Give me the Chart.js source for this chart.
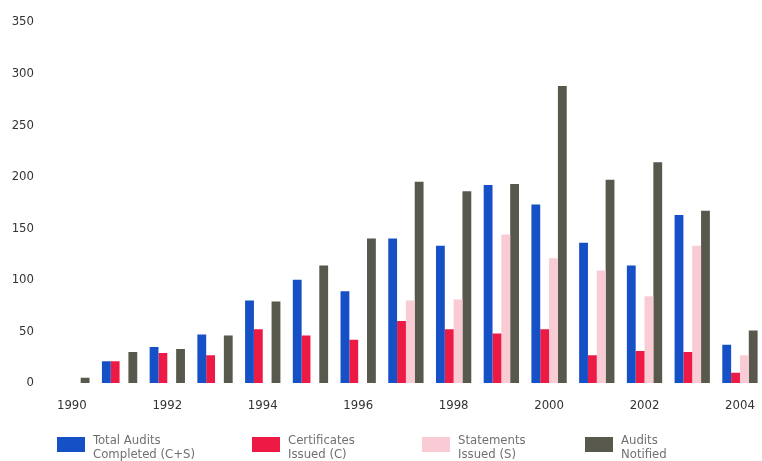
<!DOCTYPE html>
<html>
<head>
<meta charset="utf-8">
<script src="https://cdn.jsdelivr.net/npm/chart.js@4.4.1/dist/chart.umd.min.js"></script>
<style>
  html, body { margin: 0; padding: 0; background: #ffffff; overflow: hidden; }
  #wrap { position: relative; width: 770px; height: 461px; }
</style>
</head>
<body>
<div id="wrap"><canvas id="chart"></canvas></div>
<script>
// Audit activity by year
const years = ['1990','1991','1992','1993','1994','1995','1996','1997','1998','1999','2000','2001','2002','2003','2004'];
const totalCompleted = [0, 21, 35, 47, 80, 100, 89, 140, 133, 192, 173, 136, 114, 163, 37];
const certificatesIssued = [0, 21, 29, 27, 52, 46, 42, 60, 52, 48, 52, 27, 31, 30, 10];
const statementsIssued = [null, null, null, null, null, null, null, 80, 81, 144, 121, 109, 84, 133, 27];
const auditsNotified = [5, 30, 33, 46, 79, 114, 140, 195, 186, 193, 288, 197, 214, 167, 51];
const yTicks = [0, 50, 100, 150, 200, 250, 300, 350];

const seriesLabels = [
  ['Total Audits', 'Completed (C+S)'],
  ['Certificates', 'Issued (C)'],
  ['Statements', 'Issued (S)'],
  ['Audits', 'Notified']
];
const seriesColors = ['#1650c6', '#ec1a44', '#f9ccd5', '#58594c'];

const fontFamily = '"Liberation Sans Narrow", "DejaVu Sans Condensed", "Liberation Sans", Arial, sans-serif';
const tickFont = { family: fontFamily, size: 13 };

// Legend drawn below the axis, two-line labels
const bottomLegend = {
  id: 'bottomLegend',
  afterDraw(chart) {
    const ctx = chart.ctx;
    const boxX = [57, 252, 422, 585];
    ctx.save();
    ctx.font = '13px ' + fontFamily;
    ctx.textBaseline = 'middle';
    ctx.textAlign = 'left';
    chart.data.datasets.forEach((ds, i) => {
      const x = boxX[i];
      ctx.fillStyle = ds.backgroundColor;
      ctx.fillRect(x, 437, 28, 15);
      ctx.fillStyle = '#707070';
      const lines = seriesLabels[i];
      lines.forEach((t, k) => ctx.fillText(t, x + 36, 441 + k * 14));
    });
    ctx.restore();
  }
};

new Chart(document.getElementById('chart'), {
  type: 'bar',
  data: {
    labels: years,
    datasets: [
      { label: seriesLabels[0].join(' '), data: totalCompleted, backgroundColor: seriesColors[0] },
      { label: seriesLabels[1].join(' '), data: certificatesIssued, backgroundColor: seriesColors[1] },
      { label: seriesLabels[2].join(' '), data: statementsIssued, backgroundColor: seriesColors[2] },
      { label: seriesLabels[3].join(' '), data: auditsNotified, backgroundColor: seriesColors[3] }
    ]
  },
  options: {
    responsive: true,
    maintainAspectRatio: false,
    animation: false,
    layout: { padding: { top: 22, right: 5, bottom: 0, left: 0 } },
    datasets: { bar: { categoryPercentage: 0.74, barPercentage: 1.0, borderWidth: 0 } },
    plugins: { legend: { display: false }, tooltip: { enabled: false } },
    scales: {
      x: {
        grid: { display: false, drawTicks: false },
        border: { display: false },
        ticks: {
          autoSkip: false,
          maxRotation: 0,
          padding: 15,
          color: '#333333',
          font: tickFont,
          callback: (v, i) => (i % 2 === 0 ? years[i] : '')
        },
        afterFit: (s) => { s.height = 78; }
      },
      y: {
        min: 0,
        max: 350,
        grid: { display: false, drawTicks: false },
        border: { display: false },
        afterBuildTicks: (s) => { s.ticks = yTicks.map(v => ({ value: v })); },
        ticks: { padding: 14, color: '#333333', font: tickFont },
        afterFit: (s) => { s.width = 48; }
      }
    }
  },
  plugins: [bottomLegend]
});
</script>
</body>
</html>
